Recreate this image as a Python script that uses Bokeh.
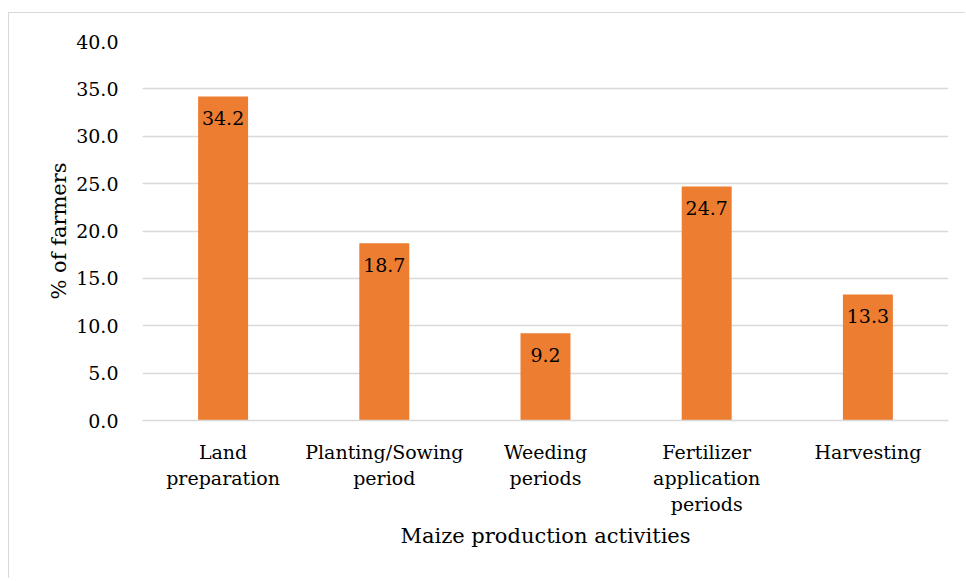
from bokeh.plotting import figure
from bokeh.models import ColumnDataSource, FixedTicker, NumeralTickFormatter, Range1d
from bokeh.core.properties import value
from bokeh.embed import file_html
from bokeh.resources import INLINE

categories = ["Land\npreparation", "Planting/Sowing\nperiod", "Weeding\nperiods",
              "Fertilizer\napplication\nperiods", "Harvesting"]
percent_farmers = [34.2, 18.7, 9.2, 24.7, 13.3]
value_labels = ["34.2", "18.7", "9.2", "24.7", "13.3"]
y_ticks = [0, 5, 10, 15, 20, 25, 30, 35, 40]

FONT = "DejaVu Serif"

src = ColumnDataSource(dict(cat=categories, val=percent_farmers, lab=value_labels))

p = figure(x_range=categories, y_range=Range1d(0, 40), width=957, height=566,
           output_backend="svg", toolbar_location=None,
           min_border_left=133, min_border_right=18, min_border_top=28, min_border_bottom=159)
p.styles = {"margin-top": "12px", "margin-left": "8px",
            "border-left": "1px solid #d9d9d9", "border-top": "1px solid #d9d9d9"}
p.outline_line_color = None

p.vbar(x="cat", top="val", width=0.31, source=src, fill_color="#ED7D31", line_color=None)
p.text(x="cat", y="val", text="lab", source=src, text_align="center", text_baseline="top",
       y_offset=15, text_font=value(FONT), text_font_size="19px", text_color="#000000")

p.xgrid.grid_line_color = None
p.ygrid.grid_line_color = "#d9d9d9"
p.ygrid.grid_line_width = 1.5
p.yaxis.ticker = FixedTicker(ticks=y_ticks)
p.yaxis.formatter = NumeralTickFormatter(format="0.0")

for ax in (p.xaxis[0], p.yaxis[0]):
    ax.major_tick_line_color = None
    ax.minor_tick_line_color = None
    ax.major_label_text_font = FONT
    ax.major_label_text_font_size = "19px"
    ax.major_label_text_color = "#000000"
    ax.axis_label_text_font = FONT
    ax.axis_label_text_font_size = "21px"
    ax.axis_label_text_font_style = "normal"
    ax.axis_label_text_color = "#000000"

p.yaxis.axis_line_color = None
p.yaxis.major_label_standoff = 18
p.yaxis.axis_label = "% of farmers"
p.yaxis.axis_label_standoff = 2

p.xaxis.axis_line_color = "#d9d9d9"
p.xaxis.axis_line_width = 1.5
p.xaxis.major_label_standoff = 14
p.xaxis.major_label_text_line_height = 1.2
p.xaxis.axis_label = "Maize production activities"
p.xaxis.axis_label_standoff = 6

open("out.html", "w").write(file_html(p, INLINE))
